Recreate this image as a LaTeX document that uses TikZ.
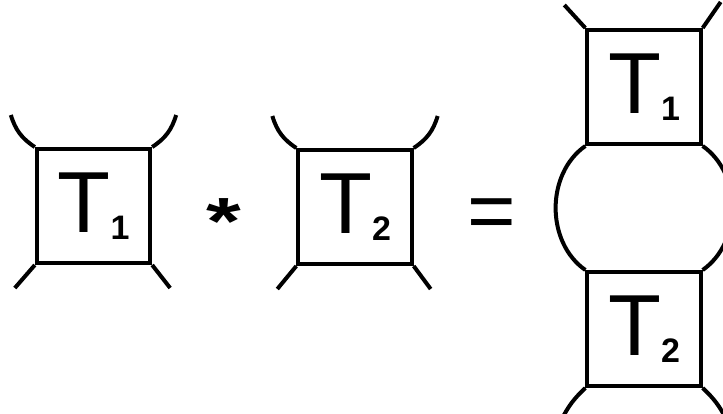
\documentclass[tikz,border=0pt]{standalone}
\usepackage{fontspec}
\setmainfont{Liberation Sans}
\usepackage{tikz}
\usetikzlibrary{positioning}

\newcommand{\tlabel}[1]{{\fontsize{74}{74}\selectfont T\raisebox{-6pt}{\fontsize{29}{29}\selectfont\bfseries #1}}}

\begin{document}
\begin{tikzpicture}[x=0.03cm, y=-0.03cm,
  tensor/.style={draw, line width=0.12cm, minimum width=3.4cm, minimum height=3.42cm, inner sep=0pt},
  leg/.style={line width=0.12cm},
  sym/.style={inner sep=0pt, anchor=north},
]
  \useasboundingbox (0,0) rectangle (723,413);

  % left side: T1 * T2
  \node[tensor] (ta) at (93.5,206) {\tlabel{1}};
  \node[tensor] (tb) at (355,207) {\tlabel{2}};
  \node[sym, font=\fontsize{76}{76}\selectfont\bfseries] (star) at (224,198) {\scalebox{1}[0.75]{*}};
  \node[sym, font=\fontsize{71}{71}\selectfont] (eq) at (492,198) {=};

  \draw[leg] (ta.north west) to[bend left=20] ++(-24,-32);
  \draw[leg] (ta.north east) to[bend right=20] ++(24,-32);
  \draw[leg] (ta.south west) -- ++(-20,23);
  \draw[leg] (ta.south east) -- ++(18,23);
  \draw[leg] (tb.north west) to[bend left=20] ++(-24,-32);
  \draw[leg] (tb.north east) to[bend right=20] ++(24,-32);
  \draw[leg] (tb.south west) -- ++(-19,23);
  \draw[leg] (tb.south east) -- ++(17,23);

  % right side: contracted pair
  \node[tensor] (tatop) at (644,87) {\tlabel{1}};
  \node[tensor] (tbbot) at (644,329) {\tlabel{2}};

  \draw[leg] (tatop.south west) to[bend right=55] (tbbot.north west);
  \draw[leg] (tatop.south east) to[bend left=55] (tbbot.north east);
  \draw[leg] (tatop.north west) -- ++(-21,-23);
  \draw[leg] (tatop.north east) -- ++(18,-26);
  \draw[leg] (tbbot.south west) to[bend right=10] ++(-24,32);
  \draw[leg] (tbbot.south east) to[bend left=10] ++(24,32);
\end{tikzpicture}
\end{document}
